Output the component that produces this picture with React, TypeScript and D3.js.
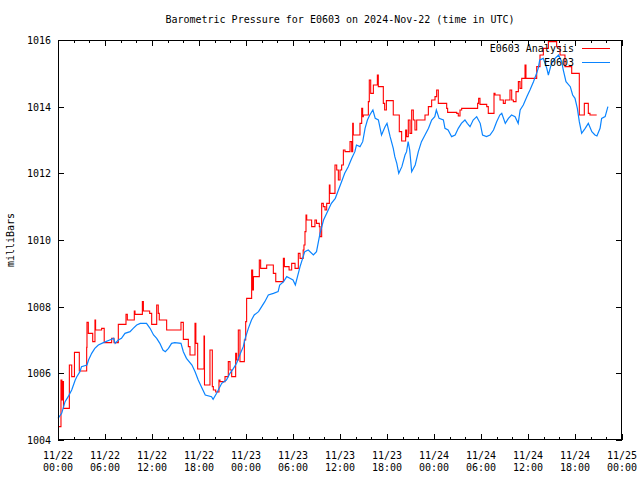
import React from "react";
import * as d3 from "d3";

const TITLE = "Barometric Pressure for E0603 on 2024-Nov-22 (time in UTC)";
const Y_LABEL = "milliBars";
const SERIES_NAMES = ["E0603 Analysis", "E0603"];
const Y_TICKS = [1004, 1006, 1008, 1010, 1012, 1014, 1016];
const START = Date.UTC(2024, 10, 22, 0, 0);
const SPAN_HOURS = 72;

// Red (analysis) series: hours since start, pressure (step-after)
const redT = [0, 0.38, 0.5, 0.6, 0.7, 1.45, 1.75, 2.1, 2.72, 3.66, 3.7, 3.87, 4.43, 4.72, 4.8, 5.57, 5.9, 6.85, 7.15, 7.7, 8.68, 8.85, 9.74, 9.83, 10.77, 10.9, 11.7, 11.96, 12.6, 12.8, 12.93, 13.87, 15.7, 16.0, 16.64, 16.85, 17.49, 17.6, 17.83, 18.64, 18.7, 19.4, 19.7, 19.83, 20.13, 20.55, 20.68, 21.32, 21.74, 21.96, 22.17, 22.68, 22.8, 23.02, 23.23, 23.79, 23.96, 24.08, 24.72, 24.85, 24.95, 25.7, 25.87, 26.64, 27.49, 27.8, 28.77, 28.9, 29.5, 29.83, 30.26, 30.68, 30.9, 31.3, 31.4, 31.53, 31.66, 31.75, 32.38, 32.8, 33.0, 33.36, 33.45, 33.66, 33.87, 34.09, 34.3, 34.64, 34.72, 35.36, 35.58, 35.79, 36.0, 36.21, 36.43, 36.64, 37.28, 37.49, 37.62, 37.7, 38.55, 38.77, 38.89, 38.98, 39.62, 39.74, 39.92, 40.26, 40.77, 40.89, 41.53, 41.7, 41.92, 42.8, 43.57, 43.87, 44.38, 44.51, 44.72, 44.94, 45.15, 45.36, 45.57, 45.79, 46.85, 47.28, 47.7, 48.13, 48.34, 48.55, 49.62, 49.74, 50.9, 51.1, 51.32, 51.53, 53.57, 53.7, 53.87, 54.73, 54.93, 55.66, 55.79, 56.43, 56.85, 57.1, 57.7, 57.92, 58.13, 58.47, 58.77, 58.98, 59.2, 59.62, 59.74, 61.11, 61.53, 61.96, 62.6, 63.66, 64.09, 64.72, 65.58, 66.55, 67.19, 67.7, 67.91, 68.77];
const redV = [1004.40, 1005.80, 1005.2, 1005.75, 1004.95, 1006.25, 1005.9, 1006.63, 1006.07, 1006.78, 1007.53, 1007.2, 1006.95, 1007.6, 1007.3, 1007.35, 1006.92, 1007.05, 1006.92, 1007.47, 1007.77, 1007.6, 1007.87, 1007.77, 1008.15, 1007.87, 1007.8, 1007.47, 1008.05, 1007.8, 1007.6, 1007.3, 1007.53, 1007.02, 1006.8, 1006.55, 1007.5, 1006.9, 1006.13, 1007.12, 1005.65, 1006.7, 1005.6, 1005.5, 1005.44, 1005.8, 1005.75, 1005.9, 1006.35, 1006.1, 1005.9, 1006.6, 1006.4, 1007.3, 1006.35, 1007.0, 1007.55, 1008.25, 1009.1, 1008.5, 1008.9, 1009.4, 1009.15, 1009.25, 1009.0, 1008.75, 1009.45, 1009.2, 1009.1, 1009.3, 1009.15, 1009.6, 1009.45, 1009.7, 1009.85, 1010.25, 1010.75, 1010.6, 1010.4, 1010.6, 1010.5, 1010.4, 1010.1, 1011.1, 1011.0, 1010.9, 1011.1, 1011.65, 1011.4, 1012.25, 1012.1, 1011.8, 1012.1, 1012.25, 1012.7, 1012.65, 1012.95, 1012.65, 1013.5, 1013.15, 1013.5, 1013.95, 1013.7, 1013.75, 1014.15, 1014.8, 1014.4, 1014.65, 1014.95, 1014.6, 1014.1, 1013.9, 1014.18, 1013.75, 1013.25, 1012.97, 1013.3, 1013.1, 1013.6, 1013.2, 1013.9, 1013.6, 1013.3, 1013.6, 1013.75, 1014.0, 1014.2, 1014.3, 1014.5, 1014.1, 1013.95, 1013.83, 1013.8, 1013.72, 1013.9, 1013.95, 1014.1, 1014.25, 1014.07, 1014.0, 1013.8, 1014.4, 1014.35, 1014.2, 1014.1, 1014.2, 1014.5, 1014.2, 1014.15, 1014.45, 1014.75, 1014.55, 1014.85, 1015.25, 1014.85, 1015.2, 1015.55, 1015.75, 1015.95, 1015.8, 1015.55, 1015.2, 1015.0, 1013.75, 1014.1, 1013.8, 1013.75, 1013.75];

// Blue (observed) series: hours since start, pressure
const blueT = [0, 0.47, 0.9, 1.3, 1.75, 2.2, 2.4, 2.8, 3.0, 3.7, 3.9, 4.3, 4.7, 5.15, 5.8, 6.6, 7.1, 7.3, 7.7, 8.1, 8.55, 9.2, 9.6, 10.05, 10.5, 11.3, 11.75, 12.2, 12.6, 13.0, 13.4, 13.7, 14.1, 14.5, 14.9, 15.7, 16.0, 16.4, 17.1, 17.5, 17.9, 18.3, 18.8, 19.6, 19.8, 20.25, 20.9, 21.5, 21.95, 22.4, 22.8, 23.2, 23.65, 23.9, 24.3, 24.7, 25.05, 25.6, 26.0, 26.4, 26.85, 27.5, 28.1, 28.3, 28.8, 29.2, 29.6, 30.0, 30.3, 30.9, 31.5, 31.95, 32.6, 33.0, 33.45, 33.9, 34.5, 34.9, 35.4, 35.8, 36.2, 36.6, 37.05, 37.5, 37.9, 38.1, 38.55, 38.9, 39.2, 39.5, 39.8, 40.2, 40.5, 40.9, 41.3, 41.75, 42.0, 42.4, 42.8, 43.0, 43.25, 43.5, 43.9, 44.3, 44.5, 44.7, 44.9, 45.15, 45.6, 46.0, 46.4, 46.85, 47.3, 47.7, 48.1, 48.3, 48.65, 49.2, 49.4, 49.8, 50.25, 50.7, 51.1, 51.5, 51.95, 52.25, 52.6, 53.0, 53.45, 53.9, 54.2, 54.7, 55.15, 55.6, 56.0, 56.4, 56.65, 57.1, 57.5, 57.9, 58.35, 58.75, 59.0, 59.4, 59.85, 60.25, 60.7, 61.1, 61.3, 61.5, 61.95, 62.4, 62.6, 63.0, 63.45, 63.9, 64.3, 64.5, 64.85, 65.4, 65.7, 66.0, 66.3, 66.55, 66.85, 67.3, 67.7, 68.15, 68.55, 68.8, 69.2, 69.4, 69.85, 70.2];
const blueV = [1004.65, 1004.8, 1005.15, 1005.3, 1005.5, 1005.8, 1005.9, 1006.05, 1006.2, 1006.25, 1006.4, 1006.6, 1006.75, 1006.85, 1006.92, 1007.0, 1007.05, 1006.9, 1007.0, 1007.05, 1007.2, 1007.25, 1007.35, 1007.45, 1007.5, 1007.5, 1007.35, 1007.15, 1007.05, 1006.9, 1006.7, 1006.65, 1006.75, 1006.9, 1006.92, 1006.9, 1006.65, 1006.45, 1006.25, 1006.05, 1005.8, 1005.6, 1005.35, 1005.3, 1005.22, 1005.4, 1005.7, 1005.8, 1006.0, 1006.15, 1006.3, 1006.55, 1006.8, 1007.05, 1007.35, 1007.6, 1007.75, 1007.85, 1008.0, 1008.15, 1008.35, 1008.4, 1008.45, 1008.65, 1008.75, 1008.9, 1008.85, 1008.8, 1008.65, 1009.2, 1009.65, 1009.7, 1009.55, 1009.65, 1010.2, 1010.6, 1010.9, 1011.1, 1011.25, 1011.5, 1011.75, 1012.0, 1012.2, 1012.45, 1012.65, 1012.85, 1012.8, 1012.95, 1013.35, 1013.6, 1013.75, 1013.9, 1013.65, 1013.6, 1013.15, 1013.4, 1013.5, 1013.1, 1012.75, 1012.5, 1012.3, 1012.0, 1012.2, 1012.55, 1012.65, 1012.95, 1012.7, 1012.05, 1012.25, 1012.65, 1012.95, 1013.15, 1013.35, 1013.6, 1013.7, 1013.9, 1013.65, 1013.6, 1013.35, 1013.3, 1013.1, 1013.15, 1013.35, 1013.5, 1013.6, 1013.5, 1013.4, 1013.6, 1013.7, 1013.5, 1013.15, 1013.1, 1013.15, 1013.3, 1013.55, 1013.75, 1013.8, 1013.5, 1013.65, 1013.75, 1013.7, 1013.5, 1013.9, 1014.05, 1014.3, 1014.5, 1014.75, 1015.0, 1015.15, 1015.4, 1015.45, 1015.15, 1014.95, 1015.3, 1015.45, 1015.55, 1015.35, 1015.1, 1014.75, 1014.6, 1014.35, 1014.25, 1013.95, 1013.55, 1013.2, 1013.35, 1013.5, 1013.25, 1013.15, 1013.12, 1013.35, 1013.65, 1013.7, 1014.0];

const FONT = "'DejaVu Sans Mono', monospace";
const RED = "#ff0000";
const BLUE = "#0a84ff";

type P = { t: Date; v: number };
const toPts = (ts: number[], vs: number[]): P[] =>
  ts.map((h, i) => ({ t: new Date(START + h * 3600000), v: vs[i] }));

export default function App() {
  const W = 640, H = 480;
  const L = 58, R = 622, T = 40, B = 440;
  const x = d3.scaleUtc().domain([new Date(START), new Date(START + SPAN_HOURS * 3600000)]).range([L, R]);
  const y = d3.scaleLinear().domain([1004, 1016]).range([B, T]);

  const red = toPts(redT, redV);
  const blue = toPts(blueT, blueV);
  const redLine = d3.line<P>().x((d) => x(d.t)).y((d) => y(d.v)).curve(d3.curveStepAfter);
  const blueLine = d3.line<P>().x((d) => x(d.t)).y((d) => y(d.v)).curve(d3.curveLinear);

  const major = x.ticks(d3.utcHour.every(6)!);
  const minor = x.ticks(d3.utcHour.every(2)!);
  const fmtD = d3.utcFormat("%m/%d");
  const fmtH = d3.utcFormat("%H:%M");

  return (
    <svg width={W} height={H} style={{ position: "absolute", left: 0, top: 0, background: "#fff", display: "block" }}
      fontFamily={FONT} fontSize={10}>
      <rect x={0} y={0} width={W} height={H} fill="#fff" />
      <text x={(L + R) / 2} y={23} textAnchor="middle">{TITLE}</text>
      <g shapeRendering="crispEdges" stroke="#000" strokeWidth={1}>
        {minor.map((d, i) => {
          const isMajor = d.getUTCHours() % 6 === 0;
          const len = isMajor ? 6 : 3;
          const xx = Math.round(x(d)) + 0.5;
          return (
            <g key={"m" + i}>
              <line x1={xx} x2={xx} y1={B} y2={B - len} />
              <line x1={xx} x2={xx} y1={T} y2={T + len} />
            </g>
          );
        })}
        {Y_TICKS.map((v) => {
          const yy = Math.round(y(v)) + 0.5;
          return (
            <g key={"y" + v}>
              <line x1={L} x2={L + 6} y1={yy} y2={yy} />
              <line x1={R} x2={R - 6} y1={yy} y2={yy} />
            </g>
          );
        })}
      </g>
      {Y_TICKS.map((v) => (
        <text key={"yl" + v} x={L - 7} y={y(v) + 4} textAnchor="end">{v}</text>
      ))}
      {major.map((d, i) => (
        <text key={"xl" + i} x={x(d)} textAnchor="middle">
          <tspan x={x(d)} y={459}>{fmtD(d)}</tspan>
          <tspan x={x(d)} y={471}>{fmtH(d)}</tspan>
        </text>
      ))}
      <text transform={`translate(14,${(T + B) / 2}) rotate(-90)`} textAnchor="middle">{Y_LABEL}</text>
      <g fill="none">
        <path d={redLine(red) ?? ""} stroke={RED} strokeWidth={1.1} />
        <path d={blueLine(blue) ?? ""} stroke={BLUE} strokeWidth={1.2} />
      </g>
      <g>
        <text x={574} y={52} textAnchor="end">{SERIES_NAMES[0]}</text>
        <line x1={582} x2={610} y1={48.5} y2={48.5} stroke={RED} />
        <text x={574} y={66} textAnchor="end">{SERIES_NAMES[1]}</text>
        <line x1={582} x2={610} y1={62.5} y2={62.5} stroke={BLUE} />
      </g>
      <rect x={L + 0.5} y={T + 0.5} width={R - L - 1} height={B - T - 1} fill="none" stroke="#000" shapeRendering="crispEdges" />
    </svg>
  );
}
